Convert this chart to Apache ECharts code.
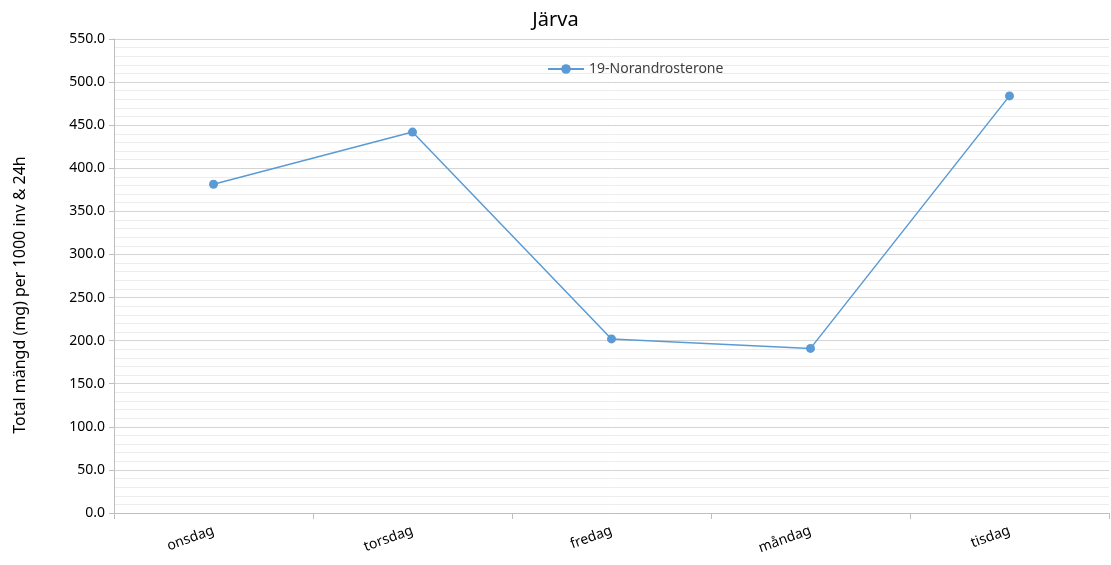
<!DOCTYPE html>
<html>
<head>
<meta charset="utf-8">
<script src="https://cdn.jsdelivr.net/npm/echarts@6/dist/echarts.min.js"></script>
<style>
html,body{margin:0;padding:0;background:#fff;}
#chart{width:1111px;height:565px;}
</style>
</head>
<body>
<div id="chart"></div>
<script>
const categories = ['onsdag', 'torsdag', 'fredag', 'måndag', 'tisdag'];
const seriesName = '19-Norandrosterone';
const values = [381.5, 442.0, 202.0, 191.0, 484.0];
const titleText = 'Järva';
const yAxisName = 'Total mängd (mg) per 1000 inv & 24h';

const font = '"Noto Sans", "Open Sans", sans-serif';
const chart = echarts.init(document.getElementById('chart'), null, {renderer: 'canvas'});
chart.setOption({
  animation: false,
  backgroundColor: '#ffffff',
  title: {
    text: titleText,
    left: 'center',
    top: 5,
    textStyle: {fontFamily: font, fontSize: 20, fontWeight: 'normal', color: '#000'}
  },
  legend: {
    data: [seriesName],
    left: 542,
    top: 57,
    itemWidth: 36,
    itemHeight: 12,
    itemGap: 4,
    textStyle: {fontFamily: font, fontSize: 14, color: '#404040'}
  },
  graphic: [{
    type: 'text',
    x: 20,
    y: 295,
    rotation: Math.PI / 2,
    style: {
      text: yAxisName,
      fontFamily: font,
      fontSize: 16,
      fill: '#000',
      align: 'center',
      verticalAlign: 'middle'
    }
  }],
  grid: {left: 114, right: 2, top: 39, bottom: 52, containLabel: false},
  xAxis: {
    type: 'category',
    data: categories,
    boundaryGap: true,
    axisLine: {lineStyle: {color: '#bfbfbf', width: 1}},
    axisTick: {show: true, length: 6, lineStyle: {color: '#bfbfbf'}},
    axisLabel: {rotate: 20, margin: 17, fontFamily: font, fontSize: 14, color: '#000'},
    splitLine: {show: false}
  },
  yAxis: {
    type: 'value',
    min: 0,
    max: 550,
    interval: 50,
    axisLine: {show: true, lineStyle: {color: '#bfbfbf'}},
    axisTick: {show: true, length: 5, lineStyle: {color: '#bfbfbf'}},
    axisLabel: {fontFamily: font, fontSize: 14, color: '#000', margin: 9,
      formatter: v => v.toFixed(1)},
    splitLine: {show: true, lineStyle: {color: '#d4d4d4', width: 1}},
    minorTick: {show: false, splitNumber: 5},
    minorSplitLine: {show: true, lineStyle: {color: '#ececec', width: 1}}
  },
  series: [{
    name: seriesName,
    type: 'line',
    data: values,
    symbol: 'circle',
    symbolSize: 9,
    lineStyle: {color: '#5b9bd5', width: 1.5},
    itemStyle: {color: '#5b9bd5'}
  }]
});
</script>
</body>
</html>
